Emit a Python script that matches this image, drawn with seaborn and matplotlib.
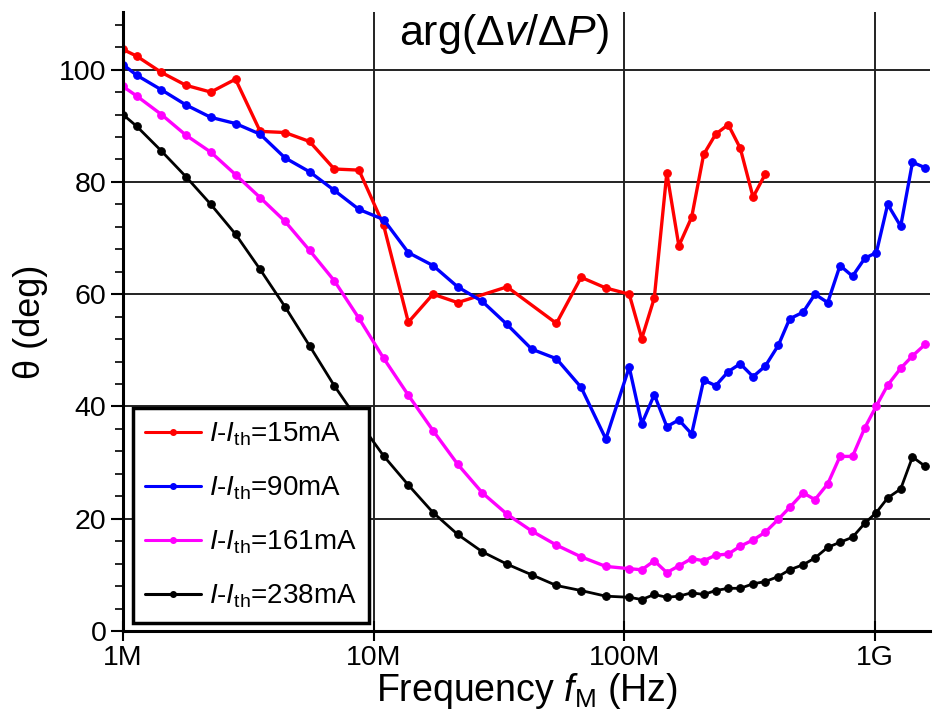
import matplotlib
matplotlib.use("Agg")
import matplotlib.pyplot as plt
from matplotlib.lines import Line2D
import numpy as np
import pandas as pd
import seaborn as sns
from matplotlib.ticker import FixedLocator, MultipleLocator, NullLocator

# modulation frequencies (MHz)
freq_low = [1.0, 1.135, 1.424, 1.786, 2.241, 2.812, 3.527, 4.426, 5.553, 6.966,
            8.741, 10.96, 13.76, 17.26, 21.65, 27.16, 34.08, 42.76, 53.64, 67.30, 84.45]
freq_high = [104.7, 117.5, 131.8, 147.9, 165.2, 185.8, 207.5, 231.7, 260.0, 290.4,
             326.6, 365.6, 412.1, 457.1, 517.6, 576.8, 648.6, 726.1, 814.7, 912.0,
             1014, 1125, 1268, 1413, 1592]

# phase (deg) for each bias current
freq_15 = [1.0, 1.135, 1.424, 1.786, 2.241, 2.812, 3.527, 4.426, 5.553, 6.966,
           8.741, 10.96, 13.76, 17.26, 21.65, 34.08, 53.64, 67.30, 84.45,
           104.7, 117.5, 131.8, 147.9, 165.2, 185.8, 207.5, 231.7, 260.0, 290.4,
           326.6, 365.6]
theta_15 = [103.6, 102.4, 99.5, 97.2, 96.0, 98.3, 89.0, 88.8, 87.2, 82.3,
            82.1, 72.3, 55.0, 60.0, 58.5, 61.3, 54.8, 63.0, 61.1,
            60.0, 52.1, 59.3, 81.6, 68.6, 73.7, 84.9, 88.5, 90.2, 86.0,
            77.3, 81.4]
theta_90 = [100.9, 99.0, 96.4, 93.7, 91.5, 90.4, 88.5, 84.3, 81.8, 78.5,
            75.1, 73.3, 67.4, 65.1, 61.3, 58.7, 54.6, 50.2, 48.5, 43.4, 34.2,
            47.0, 36.9, 42.1, 36.4, 37.6, 35.1, 44.7, 43.7, 46.2, 47.6,
            45.3, 47.2, 50.9, 55.6, 56.8, 60.0, 58.5, 65.1, 63.2, 66.4,
            67.4, 76.0, 72.1, 83.5, 82.5]
theta_161 = [97.0, 95.3, 92.0, 88.3, 85.3, 81.3, 77.2, 73.0, 67.8, 62.4,
             55.7, 48.6, 42.0, 35.7, 29.7, 24.6, 20.8, 17.8, 15.3, 13.2, 11.5,
             11.1, 10.9, 12.5, 10.4, 11.6, 12.9, 12.5, 13.5, 13.7, 15.1,
             16.2, 17.6, 19.9, 22.0, 24.6, 23.4, 26.2, 31.1, 31.1, 36.2,
             40.1, 43.8, 46.8, 49.0, 51.1]
theta_238 = [92.0, 89.9, 85.5, 80.9, 76.0, 70.7, 64.4, 57.8, 50.8, 43.7,
             37.3, 31.2, 26.0, 21.1, 17.2, 14.1, 11.9, 10.0, 8.1, 7.2, 6.2,
             6.0, 5.6, 6.5, 6.0, 6.2, 6.8, 6.5, 7.2, 7.6, 7.6,
             8.4, 8.8, 9.7, 10.9, 11.8, 13.0, 14.9, 15.8, 16.7, 19.2,
             21.1, 23.7, 25.3, 31.0, 29.3]

labels = ["$I$-$I_{\\rm th}$=15mA", "$I$-$I_{\\rm th}$=90mA",
          "$I$-$I_{\\rm th}$=161mA", "$I$-$I_{\\rm th}$=238mA"]
colors = ["#ff0000", "#0000ff", "#ff00ff", "#000000"]
widths = [2.4, 2.4, 2.4, 2.0]

sns.set_style("ticks")
plt.rcParams["font.family"] = ["Liberation Sans", "DejaVu Sans"]
plt.rcParams["mathtext.fontset"] = "custom"
plt.rcParams["mathtext.rm"] = "Liberation Sans"
plt.rcParams["mathtext.it"] = "Liberation Sans:italic"
for k in ["text.color", "axes.labelcolor", "xtick.color", "ytick.color"]:
    plt.rcParams[k] = "black"

freq_all = freq_low + freq_high
frames = []
for lab, f, th in zip(labels, [freq_15, freq_all, freq_all, freq_all],
                      [theta_15, theta_90, theta_161, theta_238]):
    frames.append(pd.DataFrame({"freq": np.array(f) * 1e6, "theta": th, "label": lab}))
df = pd.concat(frames, ignore_index=True)

fig = plt.figure(figsize=(9.33, 7.25), dpi=100)
ax = fig.add_axes([0.1318, 0.1297, 0.865, 0.854])

sns.lineplot(data=df, x="freq", y="theta", hue="label", hue_order=labels,
             palette=colors, marker="o", markersize=5.5, estimator=None,
             sort=False, legend=False, ax=ax)
for line, c, w in zip(ax.lines, colors, widths):
    line.set_linewidth(w)
    line.set_markeredgecolor(c)
    line.set_markerfacecolor(c)

ax.set_xscale("log")
ax.set_xlim(1e6, 1.66e9)
ax.set_ylim(0, 110.3)
ax.xaxis.set_major_locator(FixedLocator([1e6, 1e7, 1e8, 1e9]))
ax.xaxis.set_minor_locator(NullLocator())
ax.set_xticklabels(["1M", "10M", "100M", "1G"])
ax.yaxis.set_major_locator(MultipleLocator(20))
ax.yaxis.set_minor_locator(MultipleLocator(4))
ax.tick_params(axis="y", which="major", direction="out", length=9, width=1.5, labelsize=20.5, pad=3)
ax.tick_params(axis="y", which="minor", direction="out", length=6, width=1.2)
ax.tick_params(axis="x", which="major", direction="inout", length=14, width=1.5, labelsize=20.5, pad=3)
ax.grid(which="major", color="#222222", linewidth=1.4)
ax.set_axisbelow(True)
for s in ["top", "right"]:
    ax.spines[s].set_visible(False)
for s in ["left", "bottom"]:
    ax.spines[s].set_linewidth(2.2)
    ax.spines[s].set_color("black")

ax.set_xlabel("Frequency $f_{\\rm M}$ (Hz)", fontsize=27, labelpad=0)
ax.set_ylabel("θ (deg)", fontsize=26, labelpad=8)
ax.text(0.472, 1.0, "arg($\\Delta v/\\Delta P$)", transform=ax.transAxes,
        ha="center", va="top", fontsize=31)

handles = [Line2D([], [], color=c, lw=2.2, marker="o", markersize=4) for c in colors]
leg = ax.legend(handles, labels, loc="lower left", bbox_to_anchor=(0.012, 0.013),
                fontsize=20, frameon=True, fancybox=False, handlelength=2.0,
                handletextpad=0.3, borderpad=0.45, labelspacing=0.96,
                borderaxespad=0)
leg.get_frame().set_edgecolor("black")
leg.get_frame().set_linewidth(2.5)
leg.get_frame().set_alpha(1)

fig.savefig("out.png", dpi=100)
